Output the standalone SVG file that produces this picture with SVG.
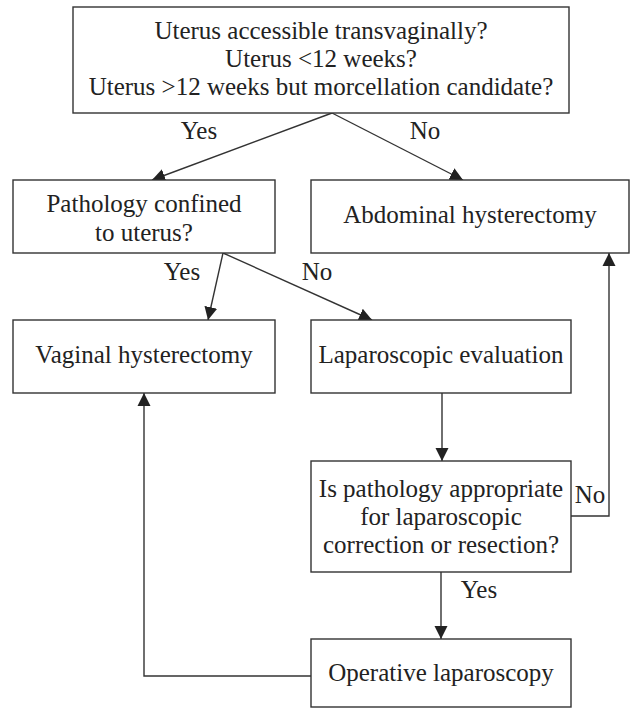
<svg xmlns="http://www.w3.org/2000/svg" width="630" height="709" viewBox="0 0 630 709">
<defs>
<style>
.box{fill:#fff;stroke:#333;stroke-width:1.4}
.t{font-size:25px;fill:#222;text-anchor:middle}
.c{fill:none;stroke:#333;stroke-width:1.4}
</style>
<marker id="ah" markerUnits="userSpaceOnUse" markerWidth="14" markerHeight="14" viewBox="0 0 14 14" refX="13" refY="7" orient="auto">
<path d="M0,0.5 L13,7 L0,13.5 Z" fill="#222"/>
</marker>
</defs>
<rect width="630" height="709" fill="#fff"/>
<g font-family="'Liberation Serif', 'DejaVu Serif', serif">
<g id="connectors">
<line class="c" x1="332" y1="113" x2="152" y2="180" marker-end="url(#ah)"/>
<line class="c" x1="332" y1="113" x2="463" y2="180" marker-end="url(#ah)"/>
<line class="c" x1="223" y1="253" x2="208" y2="320" marker-end="url(#ah)"/>
<line class="c" x1="223" y1="253" x2="372" y2="320" marker-end="url(#ah)"/>
<line class="c" x1="442" y1="393" x2="442" y2="461" marker-end="url(#ah)"/>
<polyline class="c" points="571,516 609,516 609,253" marker-end="url(#ah)"/>
<line class="c" x1="441" y1="572" x2="441" y2="639" marker-end="url(#ah)"/>
<polyline class="c" points="311,676 144,676 144,393" marker-end="url(#ah)"/>
<text class="t" x="199" y="139">Yes</text>
<text class="t" x="425" y="139">No</text>
<text class="t" x="182" y="280">Yes</text>
<text class="t" x="317" y="280">No</text>
<text class="t" x="590" y="503">No</text>
<text class="t" x="479" y="598">Yes</text>
</g>
<g id="n-top">
<rect class="box" x="73" y="7" width="496" height="106"/>
<text class="t" x="321" y="39">Uterus accessible transvaginally?</text>
<text class="t" x="321" y="67">Uterus &lt;12 weeks?</text>
<text class="t" x="321" y="95">Uterus &gt;12 weeks but morcellation candidate?</text>
</g>
<g id="n-pathology">
<rect class="box" x="13" y="180" width="262" height="73"/>
<text class="t" x="144" y="212">Pathology confined</text>
<text class="t" x="144" y="241">to uterus?</text>
</g>
<g id="n-abdominal">
<rect class="box" x="311" y="180" width="318" height="73"/>
<text class="t" x="470" y="223">Abdominal hysterectomy</text>
</g>
<g id="n-vaginal">
<rect class="box" x="13" y="320" width="262" height="73"/>
<text class="t" x="144" y="363">Vaginal hysterectomy</text>
</g>
<g id="n-lapeval">
<rect class="box" x="311" y="320" width="260" height="73"/>
<text class="t" x="441" y="363">Laparoscopic evaluation</text>
</g>
<g id="n-appropriate">
<rect class="box" x="311" y="461" width="260" height="111"/>
<text class="t" x="441" y="497">Is pathology appropriate</text>
<text class="t" x="441" y="525">for laparoscopic</text>
<text class="t" x="441" y="553">correction or resection?</text>
</g>
<g id="n-oplap">
<rect class="box" x="311" y="639" width="260" height="68"/>
<text class="t" x="441" y="681">Operative laparoscopy</text>
</g>
</g>
</svg>
